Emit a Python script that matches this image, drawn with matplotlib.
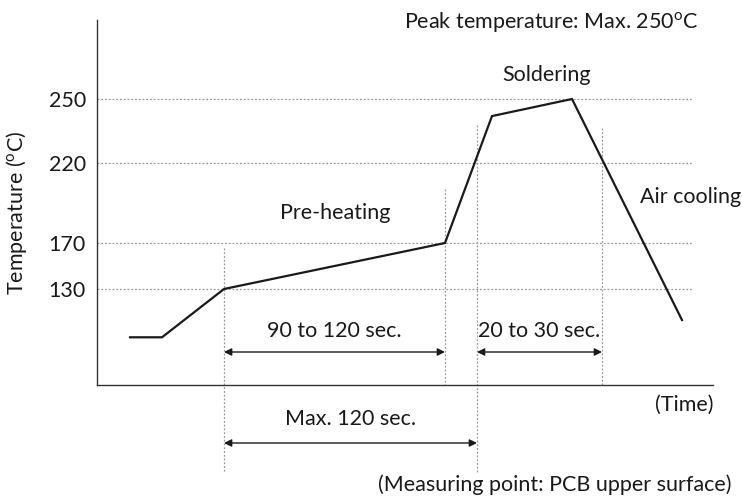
import numpy as np
import matplotlib
matplotlib.use("Agg")
import matplotlib.pyplot as plt
from matplotlib.scale import FuncScale

plt.rcParams['font.family'] = ['Lato', 'DejaVu Sans']
plt.rcParams['mathtext.fontset'] = 'custom'
plt.rcParams['mathtext.rm'] = 'Lato'
plt.rcParams['mathtext.it'] = 'Lato:italic'
plt.rcParams['mathtext.bf'] = 'Lato:bold'

# ---- data (schematic reflow profile) ----
time_pts = [33, 65, 127, 348, 395, 475, 585]        # arbitrary time units
temp_pts = [88, 88, 130, 170, 242, 250, 103]        # degC
temp_ticks = [130, 170, 220, 250]
temp_tick_labels = ["130", "170", "220", "250"]
phase_marks = [127, 348, 380, 505]                   # time of vertical guide lines
span_labels = ["90 to 120 sec.", "20 to 30 sec.", "Max. 120 sec."]
phase_labels = ["Pre-heating", "Soldering", "Air cooling"]

# schematic (non-linear) temperature axis
T_anchor = np.array([40, 130, 170, 220, 250, 300], float)
P_anchor = np.array([-392.5, -289, -243, -163, -99, -7.7], float)

def fwd(t):
    return np.interp(t, T_anchor, P_anchor)

def inv(p):
    return np.interp(p, P_anchor, T_anchor)

W, H = 742, 499
fig = plt.figure(figsize=(W / 100, H / 100), dpi=100)

def fx(x):
    return x / W

def fy(y):
    return 1 - y / H

FS = 15.5
DEG = r"$^{\mathrm{o}}$"

ax_l, ax_r, ax_t, ax_b = 97, 713, 20, 385
ax = fig.add_axes([fx(ax_l), fy(ax_b), (ax_r - ax_l) / W, (ax_b - ax_t) / H])
ax.set_yscale(FuncScale(ax, (fwd, inv)))
ax.set_xlim(0, ax_r - ax_l)
ax.set_ylim(inv(-ax_b), inv(-ax_t))

for s in ['top', 'right']:
    ax.spines[s].set_visible(False)
for s in ['left', 'bottom']:
    ax.spines[s].set_color('#333333')
    ax.spines[s].set_linewidth(1.0)

def afrac(pix):
    return (ax_b - pix) / (ax_b - ax_t)

ax.set_xticks([])
ax.set_yticks(temp_ticks)
ax.set_yticklabels(temp_tick_labels, fontsize=FS, color='#1a1a1a')
ax.tick_params(axis='y', length=0, pad=8)
ax.set_ylabel("Temperature (" + DEG + "C)", fontsize=FS, color='#1a1a1a')
ax.yaxis.set_label_coords((29 - ax_l) / (ax_r - ax_l), afrac(213))

grid_kw = dict(color='#9a9a9a', lw=0.9, ls=(0, (1.5, 1.5)))
for t in temp_ticks:
    ax.plot([0, 596], [t, t], **grid_kw, zorder=1)

vtr = ax.get_xaxis_transform()
v_extent = [(248, 472), (189, 385), (125, 472), (128, 385)]
for xm, (top, bot) in zip(phase_marks, v_extent):
    ax.plot([xm, xm], [afrac(top), afrac(bot)], transform=vtr, clip_on=False, **grid_kw, zorder=1)

ax.plot(time_pts, temp_pts, color='#1a1a1a', lw=1.6, solid_joinstyle='miter', zorder=3)

arrow_kw = dict(arrowstyle='<|-|>', color='#1a1a1a', lw=1.0, mutation_scale=11,
                shrinkA=0, shrinkB=0)
spans = [(phase_marks[0], phase_marks[1], 352, 331),
         (phase_marks[2], phase_marks[3], 352, 331),
         (phase_marks[0], phase_marks[2], 443, 419)]
for (x0, x1, ya, yt), lab in zip(spans, span_labels):
    ax.annotate('', xy=(x0, afrac(ya)), xytext=(x1, afrac(ya)), xycoords=vtr,
                textcoords=vtr, arrowprops=arrow_kw, annotation_clip=False)
    ax.text((x0 + x1) / 2, afrac(yt), lab, transform=vtr, ha='center', va='center',
            fontsize=FS, color='#1a1a1a', clip_on=False)

tk = dict(fontsize=FS, color='#1a1a1a')
fig.text(fx(335), fy(213), phase_labels[0], ha='center', va='center', **tk)
fig.text(fx(547), fy(75), phase_labels[1], ha='center', va='center', **tk)
fig.text(fx(640), fy(197), phase_labels[2], ha='left', va='center', **tk)
fig.text(fx(551), fy(22), "Peak temperature: Max. 250" + DEG + "C", ha='center', va='center', **tk)
fig.text(fx(713), fy(405), "(Time)", ha='right', va='center', **tk)
fig.text(fx(731), fy(485), "(Measuring point: PCB upper surface)", ha='right', va='center', **tk)

fig.savefig("out.png", dpi=100, facecolor='white')
